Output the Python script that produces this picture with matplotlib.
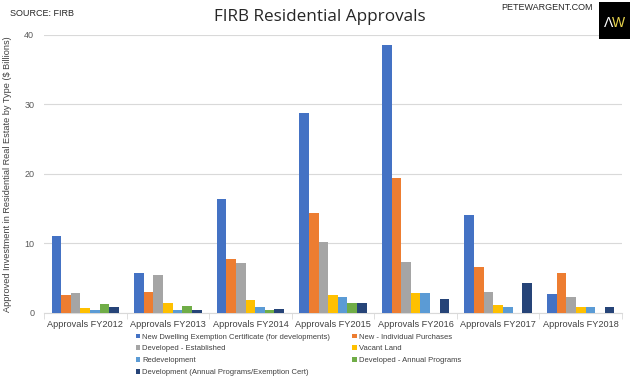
import matplotlib
matplotlib.use("Agg")
import matplotlib.pyplot as plt
import numpy as np
from matplotlib.patches import Rectangle

categories = ["Approvals FY2012", "Approvals FY2013", "Approvals FY2014", "Approvals FY2015",
              "Approvals FY2016", "Approvals FY2017", "Approvals FY2018"]
series_names = ["New Dwelling Exemption Certificate (for developments)",
                "New - Individual Purchases",
                "Developed - Established",
                "Vacant Land",
                "Redevelopment",
                "Developed - Annual Programs",
                "Development (Annual Programs/Exemption Cert)"]
new_dwelling = [11.0, 5.75, 16.45, 28.8, 38.5, 14.15, 2.75]
new_individual = [2.55, 3.0, 7.8, 14.4, 19.4, 6.6, 5.8]
developed_established = [2.9, 5.5, 7.25, 10.2, 7.3, 3.0, 2.3]
vacant_land = [0.7, 1.45, 1.85, 2.55, 2.85, 1.1, 0.82]
redevelopment = [0.5, 0.4, 0.8, 2.25, 2.85, 0.86, 0.82]
developed_annual = [1.3, 1.0, 0.4, 1.5, 0.0, 0.0, 0.0]
development_annual = [0.9, 0.5, 0.6, 1.45, 1.97, 4.3, 0.82]
yticks = [0, 10, 20, 30, 40]

series = [new_dwelling, new_individual, developed_established, vacant_land,
          redevelopment, developed_annual, development_annual]
colors = ["#4472C4", "#ED7D31", "#A5A5A5", "#FFC000", "#5B9BD5", "#70AD47", "#264478"]

plt.rcParams['font.family'] = ['Liberation Sans', 'DejaVu Sans']

fig = plt.figure(figsize=(6.4, 3.78), dpi=100)
ax = fig.add_axes([44/640, 1-313/378, 578/640, (313-34.7)/378])

n = len(series)
bw = 0.1165
x = np.arange(len(categories))
for i, (vals, c) in enumerate(zip(series, colors)):
    offs = (i - (n-1)/2) * bw
    ax.bar(x + offs, vals, width=bw, color=c, label=series_names[i], zorder=3)

ax.set_xlim(-0.5, len(categories)-0.5)
ax.set_ylim(0, 40)
ax.set_yticks(yticks)
ax.set_yticklabels([str(v) for v in yticks], fontsize=6.5, color="#595959")
ax.yaxis.grid(True, color="#D9D9D9", linewidth=0.8, zorder=0)
ax.tick_params(axis='y', length=0, pad=7)
ax.set_xticks(x)
ax.set_xticklabels(categories, fontsize=6.6, color="#404040")
ax.tick_params(axis='x', length=0, pad=5)
ax.set_xticks(np.arange(len(categories)+1) - 0.5, minor=True)
ax.tick_params(axis='x', which='minor', length=4, color="#D9D9D9", direction='out')
for s in ["top", "right", "left"]:
    ax.spines[s].set_visible(False)
ax.spines["bottom"].set_color("#D9D9D9")
ax.set_ylabel("Approved Investment in Residential Real Estate by Type ($ Billions)",
              fontsize=6.6, color="#404040", labelpad=9)

handles, labels = ax.get_legend_handles_labels()
order = [0, 2, 4, 6, 1, 3, 5]
leg = fig.legend([handles[k] for k in order], [labels[k] for k in order],
                 loc="upper left", bbox_to_anchor=(134/640, 1-332/378),
                 ncol=2, fontsize=5.5, frameon=False, handlelength=0.6, handleheight=0.6,
                 handletextpad=0.3, columnspacing=2.9, labelspacing=0.62,
                 labelcolor="#404040", borderaxespad=0, borderpad=0.2)

fig.text(320/640, 1-17/378, "FIRB Residential Approvals", ha="center", va="center",
         fontsize=12.3, family=["Open Sans", "DejaVu Sans"], color="#262626")
fig.text(10/640, 1-13/378, "SOURCE: FIRB", ha="left", va="center", fontsize=6.5, color="#262626")
fig.text(593/640, 1-8/378, "PETEWARGENT.COM", ha="right", va="center", fontsize=6.5, color="#262626")

logo = Rectangle((599/640, 1-39/378), 31/640, 37/378, transform=fig.transFigure,
                 facecolor="black", edgecolor="none")
fig.patches.append(logo)
fig.text(609/640, 1-23/378, "\u039B", ha="center", va="center", fontsize=10, color="white")
fig.text(619/640, 1-23/378, "W", ha="center", va="center", fontsize=10, color="#E8D44D")

fig.savefig("out.png", dpi=100)
